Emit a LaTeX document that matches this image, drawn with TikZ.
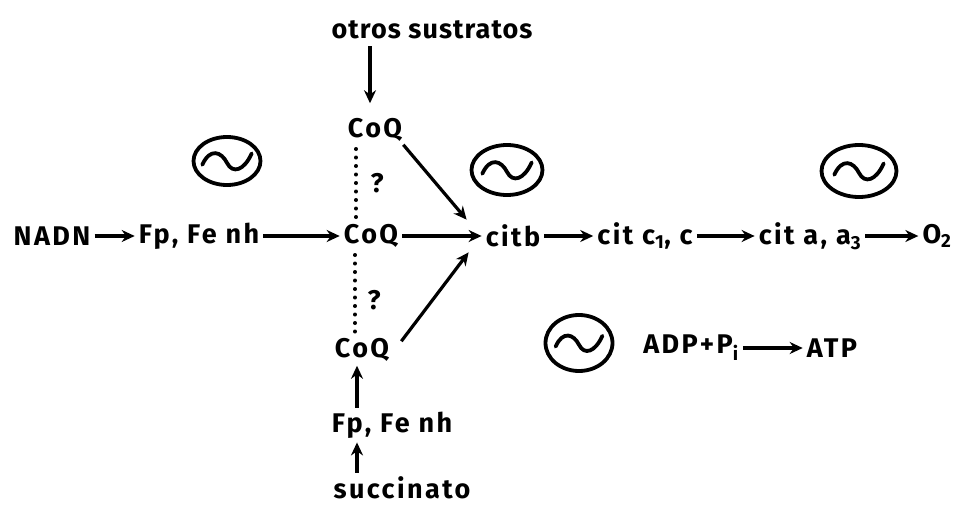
\documentclass[tikz,border=0pt]{standalone}
\usepackage{fontspec}
\setmainfont{Fira Sans}[LetterSpace=9]
\usetikzlibrary{arrows.meta,shapes.geometric}
\begin{document}
\begin{tikzpicture}[x=1pt,y=-1pt,
  lbl/.style={font=\fontsize{27}{31}\selectfont\bfseries, inner sep=1pt},
  arr/.style={line width=3.2pt,-{Stealth[length=13pt,width=12pt]}, shorten <=3pt, shorten >=3pt},
  dots/.style={line width=3.5pt, line cap=round, dash pattern=on 0.5pt off 8pt},
  til/.style={draw, ellipse, line width=3.8pt, inner sep=0pt}]
\useasboundingbox (0,0) rectangle (958,508);
% texts
\node[lbl, font=\fontsize{27}{31}\selectfont\bfseries\addfontfeature{LetterSpace=4}] (otros) at (432,30) {otros sustratos};
\node[lbl] (coq1) at (375,130) {CoQ};
\node[lbl] (coq2) at (371,236) {CoQ};
\node[lbl] (coq3) at (362,350) {CoQ};
\node[lbl] (nadn) at (52,236) {NADN};
\node[lbl] (fp1) at (199,236) {Fp, Fe nh};
\node[lbl] (citb) at (513,236) {citb};
\node[lbl] (citc) at (645,236) {cit c\textsubscript{1}, c};
\node[lbl] (cita) at (810,236) {cit a, a\textsubscript{3}};
\node[lbl] (o2) at (937,236) {O\textsubscript{2}};
\node[lbl] (q1) at (377,183) {?};
\node[lbl] (q2) at (374,300) {?};
\node[lbl] (fp2) at (392,425) {Fp, Fe nh};
\node[lbl] (succ) at (402,488) {succinato};
\node[lbl] (adp) at (691,348) {ADP+P\textsubscript{i}};
\node[lbl] (atp) at (832,348) {ATP};
% tilde ellipses
\node[til, minimum width=67pt, minimum height=48pt] (e1) at (227,161) {};
\node[til, minimum width=71pt, minimum height=50pt] (e2) at (507,170) {};
\node[til, minimum width=75pt, minimum height=52pt] (e3) at (859,171) {};
\node[til, minimum width=67pt, minimum height=56pt] (e4) at (579,343) {};
\foreach \e/\s in {e1/0.95, e2/0.95, e3/0.95, e4/0.9}{
  \draw[line width=3.8pt, line cap=round, shift={(\e.center)}, scale=\s]
    (-26,4) .. controls (-18,-14) and (-6,-10) .. (0,2) .. controls (6,14) and (18,10) .. (26,-8);
}
% main chain arrows
\draw[arr] (nadn) -- (fp1);
\draw[arr] (fp1) -- (coq2);
\draw[arr] (coq2) -- (citb);
\draw[arr] (citb) -- (citc);
\draw[arr] (citc) -- (cita);
\draw[arr] (cita) -- (o2);
\draw[arr] (adp) -- (atp);
% vertical arrows
\draw[arr, shorten <=6pt, shorten >=14pt] (otros.south -| 370,0) -- (coq1.north -| 370,0);
\draw[arr] (fp2.north -| 357,0) -- (coq3.south -| 357,0);
\draw[arr] (succ.north -| 357,0) -- (fp2.south -| 357,0);
% diagonal arrows to citb
\draw[arr, shorten <=0pt, shorten >=0pt] ([yshift=-2pt]coq1.south east) -- ([xshift=-18pt,yshift=4pt]citb.north west);
\draw[arr, shorten <=0pt, shorten >=0pt] ([xshift=11pt,yshift=-4pt]coq3.north east) -- ([xshift=-16pt,yshift=-4pt]citb.south west);
% dotted links
\draw[dots] ([yshift=-6pt]coq1.south -| 356,0) -- ([yshift=4pt]coq2.north -| 356,0);
\draw[dots] ([yshift=-6pt]coq2.south -| 355,0) -- ([yshift=2pt]coq3.north -| 355,0);
\end{tikzpicture}
\end{document}
